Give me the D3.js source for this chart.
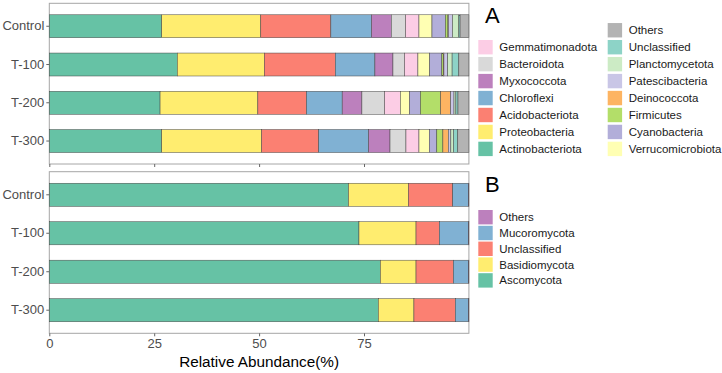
<!DOCTYPE html>
<html><head><meta charset="utf-8">
<script src="https://cdn.jsdelivr.net/npm/d3@7"></script>
<style>body{margin:0;background:#fff}svg{display:block}text{font-family:"Liberation Sans",Arial,sans-serif}</style>
</head><body><svg id="c" width="722" height="373"></svg>
<script>
const samples = ["Control","T-100","T-200","T-300"];
// Panel A (bacteria): stacking order left→right
const bacteriaTaxa = ["Actinobacteriota","Proteobacteria","Acidobacteriota","Chloroflexi","Myxococcota","Bacteroidota","Gemmatimonadota","Verrucomicrobiota","Cyanobacteria","Firmicutes","Deinococcota","Patescibacteria","Planctomycetota","Unclassified","Others"];
const bacteriaColors = ["#66C2A5","#FFED6F","#FB8072","#80B1D3","#BC80BD","#D9D9D9","#FCCDE5","#FFFFB3","#B2AED9","#B3DE69","#FDB462","#C9C6E6","#CCEBC5","#8DD3C7","#B3B3B3"];
const bactControl = [26.8,23.6,16.7,9.7,4.7,3.4,3.2,3.1,3.2,0.6,0.1,1.0,1.5,0.3,2.1];
const bactT100    = [30.5,20.75,16.9,9.45,4.3,2.75,3.2,2.8,2.9,0.35,0.15,0.9,1.05,1.6,2.4];
const bactT200    = [26.4,23.3,11.6,8.5,4.7,5.4,3.75,2.2,2.6,4.8,2.4,0.8,0.45,0.5,2.6];
const bactT300    = [26.8,23.8,13.6,11.9,5.1,3.8,3.1,2.45,1.8,1.45,1.3,0.6,0.65,1.0,2.65];
const bacteriaValues = [bactControl,bactT100,bactT200,bactT300];
const bacteriaLegendCol1 = ["Gemmatimonadota","Bacteroidota","Myxococcota","Chloroflexi","Acidobacteriota","Proteobacteria","Actinobacteriota"];
const bacteriaLegendCol2 = ["Others","Unclassified","Planctomycetota","Patescibacteria","Deinococcota","Firmicutes","Cyanobacteria","Verrucomicrobiota"];
// Panel B (fungi)
const fungiTaxa = ["Ascomycota","Basidiomycota","Unclassified","Mucoromycota","Others"];
const fungiColors = ["#66C2A5","#FFED6F","#FB8072","#80B1D3","#BC80BD"];
const fungControl = [71.3,14.3,10.55,3.75,0.1];
const fungT100    = [73.8,13.6,5.55,6.95,0.1];
const fungT200    = [78.9,8.5,8.9,3.6,0.1];
const fungT300    = [78.4,8.5,9.85,3.15,0.1];
const fungiValues = [fungControl,fungT100,fungT200,fungT300];
const fungiLegend = ["Others","Mucoromycota","Unclassified","Basidiomycota","Ascomycota"];
const xTicks = [0,25,50,75];

const svg = d3.select("#c");
const x = d3.scaleLinear().domain([0,100]).range([49.3,468.9]);
const gray = "#4d4d4d";

function panel(top, bottom, taxa, colors, values, showLabels){
  const y = d3.scaleBand().domain(samples).range([top,bottom]).paddingInner(0.4).paddingOuter(0.3);
  const g = svg.append("g");
  g.append("rect").attr("x",x(0)).attr("y",top).attr("width",x(100)-x(0)).attr("height",bottom-top)
    .attr("fill","#fff").attr("stroke","#a6a6a6").attr("stroke-width",1);
  samples.forEach((s,i)=>{
    const row = taxa.map((t,j)=>({t, v:values[i][j], c:colors[j]}));
    let acc = 0;
    row.forEach(d=>{ d.x0 = acc; acc += d.v; d.x1 = acc; });
    g.selectAll(null).data(row).enter().append("rect")
      .attr("x",d=>x(d.x0)).attr("width",d=>Math.max(0,x(d.x1)-x(d.x0)))
      .attr("y",y(s)).attr("height",y.bandwidth())
      .attr("fill",d=>d.c).attr("stroke","#444").attr("stroke-width",0.5);
  });
  const ya = d3.axisLeft(y).tickSize(3).tickPadding(2);
  const yg = g.append("g").attr("transform",`translate(${x(0)},0)`).call(ya);
  yg.select(".domain").remove();
  yg.selectAll("line").attr("stroke","#666");
  yg.selectAll("text").attr("fill",gray).style("font-size","13px");
  const xa = d3.axisBottom(x).tickValues(xTicks).tickSize(3).tickPadding(2);
  const xg = g.append("g").attr("transform",`translate(0,${bottom})`).call(xa);
  xg.select(".domain").remove();
  xg.selectAll("line").attr("stroke","#666");
  xg.selectAll("text").attr("fill",gray).style("font-size","13px");
  if(!showLabels) xg.selectAll("text").remove();
}
panel(3.3,164,bacteriaTaxa,bacteriaColors,bacteriaValues,false);
panel(171.7,333.3,fungiTaxa,fungiColors,fungiValues,true);

svg.append("text").attr("x",x(50)).attr("y",367).attr("text-anchor","middle")
  .style("font-size","15.3px").attr("fill","#000").text("Relative Abundance(%)");

function legend(items, taxa, colors, kx, ky0, step){
  items.forEach((name,i)=>{
    const c = colors[taxa.indexOf(name)];
    svg.append("rect").attr("x",kx).attr("y",ky0+i*step).attr("width",14.4).attr("height",14.4).attr("fill",c);
    svg.append("text").attr("x",kx+21).attr("y",ky0+i*step+7.2).attr("dy","0.35em")
      .style("font-size","11.5px").attr("fill","#1a1a1a").text(name);
  });
}
svg.append("text").attr("x",485).attr("y",22.7).style("font-size","22px").attr("fill","#000").text("A");
legend(bacteriaLegendCol1,bacteriaTaxa,bacteriaColors,478.3,40,16.95);
legend(bacteriaLegendCol2,bacteriaTaxa,bacteriaColors,607.7,23.05,16.95);
svg.append("text").attr("x",485).attr("y",192).style("font-size","22px").attr("fill","#000").text("B");
legend(fungiLegend,fungiTaxa,fungiColors,478.3,210,15.8);
</script></body></html>
